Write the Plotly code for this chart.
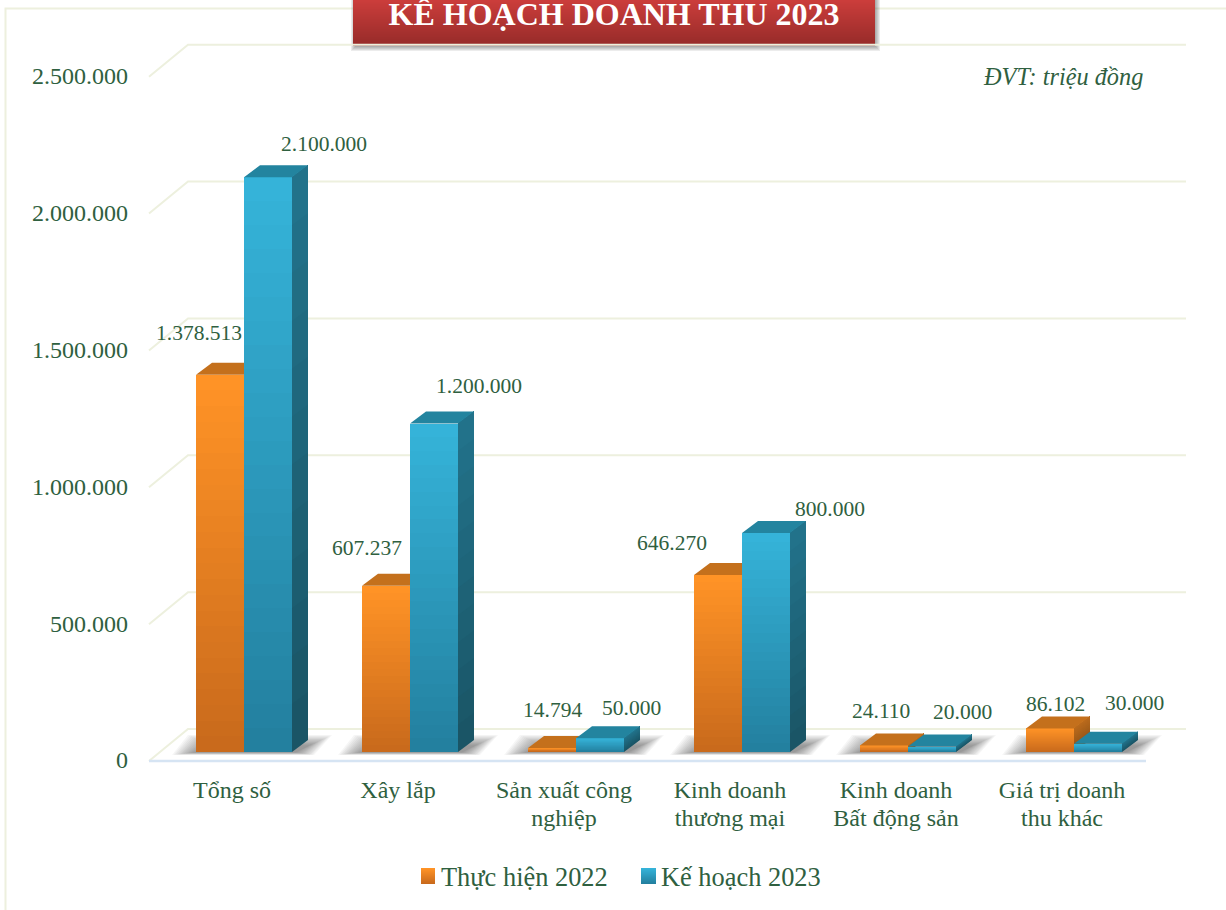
import plotly.graph_objects as go

# ---- data ----
cat_line1 = ["Tổng số", "Xây lắp", "Sản xuất công", "Kinh doanh", "Kinh doanh", "Giá trị doanh"]
cat_line2 = ["", "", "nghiệp", "thương mại", "Bất động sản", "thu khác"]
thuc_hien_2022 = [1378513, 607237, 14794, 646270, 24110, 86102]
ke_hoach_2023 = [2100000, 1200000, 50000, 800000, 20000, 30000]
y_ticks = [0, 500000, 1000000, 1500000, 2000000, 2500000]
series_names = ["Thực hiện 2022", "Kế hoạch 2023"]

# ---- label nudges (px, from bar top centre) ----
nudge_2022 = [(-21, 42), (-19, 38), (0, 38), (-46, 32), (-3, 34), (5, 24)]
nudge_2023 = [(56, 33), (45, 38), (31, 30), (64, 24), (30, 35), (36, 41)]

W, H = 1226, 910
CAT_PX = 166.0           # px per category
X0_PX = 232.0            # px position of category 0 on the front plane
PX_PER_UNIT = 136.85 / 500000
GREEN = "#2F6040"
GRID = "#EDF0DE"
FONT = "Liberation Serif"


def yrange(zero_px):
    return [-(H - zero_px) / PX_PER_UNIT, zero_px / PX_PER_UNIT]


def lerp(c1, c2, t):
    a = [int(c1[i:i + 2], 16) for i in (1, 3, 5)]
    b = [int(c2[i:i + 2], 16) for i in (1, 3, 5)]
    return "#%02x%02x%02x" % tuple(round(p + (q - p) * t) for p, q in zip(a, b))


dx = 1 / CAT_PX          # one pixel in x units
dy = 1 / PX_PER_UNIT     # one pixel in y units
SHIFT = 12 * dx          # bars sit behind the front plane
BAR_W = 48 * dx
DEPTH_X, DEPTH_Y = 16 * dx, 12 * dy
idx = list(range(len(cat_line1)))
XRANGE = [-X0_PX * dx, (W - X0_PX) * dx]
fig = go.Figure()

# back-wall grid with the diagonal side wall (on the front-plane axis, below every bar)
gx, gy = [], []
for t in y_ticks:
    gx += [-83 * dx, -44 * dx, 954 * dx, None]
    gy += [t - 1 * dy, t + 31 * dy, t + 31 * dy, None]
fig.add_trace(go.Scatter(x=gx, y=gy, mode="lines", line=dict(color=GRID, width=2),
                         hoverinfo="skip", showlegend=False))
# front floor line
fig.add_trace(go.Scatter(x=[-83 * dx, 914 * dx], y=[-1 * dy, -1 * dy], mode="lines",
                         line=dict(color="#D6E4F3", width=2.5), hoverinfo="skip", showlegend=False))

# soft floor shadows
BASE = 8 * dy
for k in range(14):
    sx, sy = [], []
    for i in idx:
        l = i + SHIFT - 48 * dx
        r = i + SHIFT + 48 * dx
        sx += [l + (-24 + k * 1.7) * dx, l + (-8 + k * 1.6) * dx, r + (40 - k * 1.7) * dx, r + (22 - k * 1.4) * dx, None]
        sy += [BASE - (3 - k * 0.2) * dy, BASE + (17 - k * 0.8) * dy, BASE + (17 - k * 0.8) * dy,
               BASE - (3 - k * 0.2) * dy, None]
    fig.add_trace(go.Scatter(x=sx, y=sy, mode="none", fill="toself",
                             fillcolor="rgba(40,40,40,0.042)", hoverinfo="skip", showlegend=False))


def draw_series(values, axis, off_px, top, bottom, top_face, side_top, side_bottom):
    N = 24
    xs, ys, cols = [], [], []
    for k in range(N):
        frac = (N - k) / N
        for i, v in zip(idx, values):
            xs.append(i + SHIFT + off_px * dx)
            ys.append(v * frac)
            cols.append(lerp(top, bottom, k / (N - 1)))
    fig.add_trace(go.Bar(x=xs, y=ys, yaxis=axis, width=BAR_W, marker=dict(color=cols, line=dict(width=0)),
                         hoverinfo="skip", showlegend=False))
    # right faces, painted bottom-up so the shades never leave seams
    M = 12
    for k in range(M):
        px, py = [], []
        for i, v in zip(idx, values):
            xr = i + SHIFT + off_px * dx + BAR_W / 2
            low = v * k / M
            px += [xr, xr + DEPTH_X, xr + DEPTH_X, xr, xr, None]
            py += [low, low + DEPTH_Y, v + DEPTH_Y, v, low, None]
        fig.add_trace(go.Scatter(x=px, y=py, yaxis=axis, mode="none", fill="toself",
                                 fillcolor=lerp(side_bottom, side_top, k / (M - 1)),
                                 hoverinfo="skip", showlegend=False))
    # top faces
    px, py = [], []
    for i, v in zip(idx, values):
        xl = i + SHIFT + off_px * dx - BAR_W / 2
        xr = xl + BAR_W
        px += [xl, xl + DEPTH_X, xr + DEPTH_X, xr, xl, None]
        py += [v, v + DEPTH_Y, v + DEPTH_Y, v, v, None]
    fig.add_trace(go.Scatter(x=px, y=py, yaxis=axis, mode="none", fill="toself", fillcolor=top_face,
                             hoverinfo="skip", showlegend=False))


draw_series(thuc_hien_2022, "y2", -24, "#FF9326", "#C96A1C", "#C4701C", "#B8691C", "#8F5216")
draw_series(ke_hoach_2023, "y3", 24, "#35B3D9", "#23809F", "#23849F", "#22728A", "#1A5566")

# real legend entries; the gradient swatches are painted beneath them as shapes
for name in series_names:
    fig.add_trace(go.Scatter(x=[None], y=[None], name=name, mode="markers",
                             marker=dict(color="rgba(0,0,0,0)", size=1), showlegend=True))

shapes = []


def px_rect(x0, y0, x1, y1, color, opacity=1):
    shapes.append(dict(type="rect", xref="paper", yref="paper", x0=x0 / W, x1=x1 / W,
                       y0=1 - y0 / H, y1=1 - y1 / H, fillcolor=color, opacity=opacity,
                       line=dict(width=0), layer="below"))


# outer frame (left and top rules only, both run off the page)
shapes.append(dict(type="rect", xref="paper", yref="paper", x0=5.5 / W, x1=1.05, y0=-0.05, y1=1 - 8.5 / H,
                   line=dict(color=GRID, width=2), fillcolor="rgba(0,0,0,0)", layer="below"))
# banner shadow, body and gradient
for k in range(6):
    px_rect(351 + k, 0, 880 - k, 51 - k, "#202020", 0.085)
for y in range(0, 46):
    px_rect(353, y, 875, y + 1, lerp("#CB3D3B", "#962B29", y / 45))
# legend swatches
for y in range(868, 884):
    t = (y - 868) / 15
    px_rect(421, y, 435, y + 1, lerp("#FF9326", "#C96A1C", t))
    px_rect(641, y, 656, y + 1, lerp("#35B3D9", "#23809F", t))

# value labels
annotations = []
for vals, off, nudges, axis in [(thuc_hien_2022, -24, nudge_2022, "y2"), (ke_hoach_2023, 24, nudge_2023, "y3")]:
    for i, v, (nx, ny) in zip(idx, vals, nudges):
        annotations.append(dict(x=i + SHIFT + off * dx, y=v, xref="x", yref=axis, text=f"{v:,}".replace(",", "."),
                                showarrow=False, xshift=nx, yshift=ny, xanchor="center", yanchor="middle",
                                font=dict(family=FONT, size=21.5, color=GREEN)))
annotations.append(dict(x=1145 / W, y=1 - 76 / H, xref="paper", yref="paper", text="<i>ĐVT: triệu đồng</i>",
                        showarrow=False, xanchor="right", yanchor="middle",
                        font=dict(family=FONT, size=24.3, color=GREEN)))

cat_font = dict(family=FONT, size=24, color=GREEN)
fig.update_layout(
    width=W, height=H, margin=dict(l=0, r=0, t=0, b=0), autosize=False,
    paper_bgcolor="white", plot_bgcolor="rgba(0,0,0,0)",
    separators=",.", barmode="overlay", bargap=0,
    font=dict(family=FONT, color=GREEN),
    title=dict(text="<b>KẾ HOẠCH DOANH THU 2023</b>", x=614 / W, xanchor="center", y=1 - 14 / H, yanchor="middle",
               font=dict(family=FONT, size=32, color="white")),
    xaxis=dict(range=XRANGE, tickmode="array", tickvals=idx, ticktext=cat_line1,
               showgrid=False, zeroline=False, showline=False, ticks="", anchor="free",
               position=1 - 761 / H, ticklabelstandoff=12, tickfont=cat_font),
    xaxis2=dict(range=XRANGE, tickmode="array", tickvals=idx, ticktext=cat_line2, overlaying="x",
                showgrid=False, zeroline=False, showline=False, ticks="", anchor="free",
                position=1 - 761 / H, ticklabelstandoff=40, tickfont=cat_font),
    yaxis=dict(range=yrange(760), tickmode="array", tickvals=y_ticks, tickformat=",d", showgrid=False,
               zeroline=False, showline=False, ticks="", anchor="free", position=128 / W,
               tickfont=dict(family=FONT, size=24, color=GREEN)),
    yaxis2=dict(range=yrange(752), overlaying="y", visible=False, showgrid=False, zeroline=False),
    yaxis3=dict(range=yrange(752), overlaying="y", visible=False, showgrid=False, zeroline=False),
    legend=dict(orientation="h", x=401 / W, xanchor="left", y=1 - 876 / H, yanchor="middle", bgcolor="rgba(0,0,0,0)",
                entrywidth=175, entrywidthmode="pixels", font=dict(family=FONT, size=26.4, color=GREEN)),
    shapes=shapes, annotations=annotations,
)
# invisible carriers so both front-plane x axes render their labels
fig.add_trace(go.Scatter(x=idx, y=[0] * len(idx), xaxis="x", yaxis="y", mode="markers", opacity=0,
                         hoverinfo="skip", showlegend=False))
fig.add_trace(go.Scatter(x=idx, y=[0] * len(idx), xaxis="x2", yaxis="y", mode="markers", opacity=0,
                         hoverinfo="skip", showlegend=False))

fig.write_html("out.html", post_script="document.body.style.margin='0';", config=dict(displayModeBar=False))
